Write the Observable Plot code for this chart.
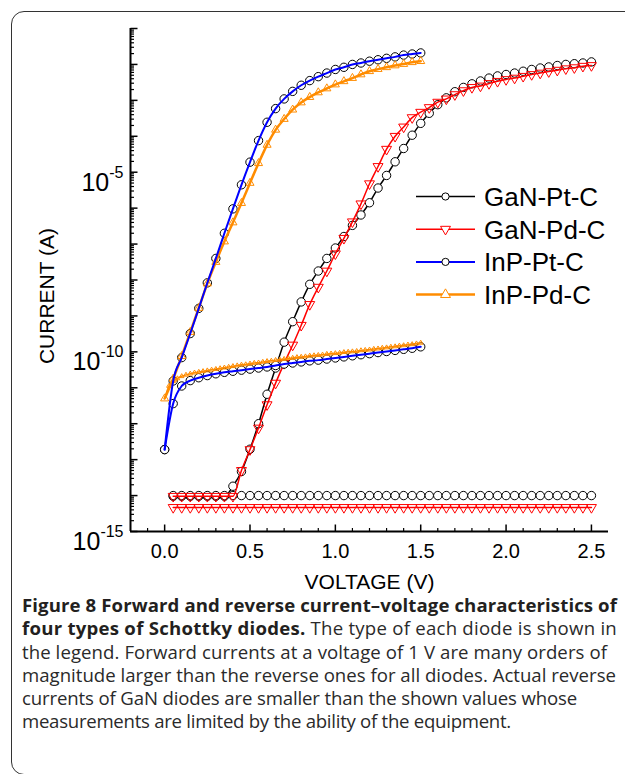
<!DOCTYPE html>
<html><head><meta charset="utf-8">
<script src="https://cdn.jsdelivr.net/npm/d3@7"></script>
<script src="https://cdn.jsdelivr.net/npm/@observablehq/plot@0.6"></script>
<style>
html,body{margin:0;padding:0;background:#fff;}
body{width:625px;height:774px;overflow:hidden;position:relative;}
#chart{position:absolute;left:0;top:0;}
#legend{position:absolute;left:0;top:0;}
#frame{position:absolute;left:11px;top:11px;width:700px;height:762px;border:1.5px solid #333;border-radius:13px;pointer-events:none;}
#caption{position:absolute;left:22px;top:593px;font-family:"Open Sans",sans-serif;font-size:18.6px;line-height:23.3px;color:#2a2a2a;white-space:nowrap;}
#caption span{display:block;}
#caption b{color:#231f20;}
</style></head><body>
<div id="chart"></div>
<svg id="legend" width="625" height="600"></svg>
<div id="frame"></div>
<div id="caption"><span data-w="595"><b>Figure 8 Forward and reverse current–voltage characteristics of</b></span><span data-w="595"><b>four types of Schottky diodes.</b> The type of each diode is shown in</span><span data-w="585">the legend. Forward currents at a voltage of 1 V are many orders of</span><span data-w="594">magnitude larger than the reverse ones for all diodes. Actual reverse</span><span data-w="555">currents of GaN diodes are smaller than the shown values whose</span><span data-w="489">measurements are limited by the ability of the equipment.</span></div>
<script>
// ---------- data (currents as log10(I / A)) ----------
const series = ["GaN-Pt-C", "GaN-Pd-C", "InP-Pt-C", "InP-Pd-C"];
const lineColors = ["#000000", "#ff0000", "#0000ff", "#ff8c00"];
const markerColors = ["#000000", "#ff0000", "#000000", "#ff8c00"];

const xTickValues = [0, 0.5, 1, 1.5, 2, 2.5];
const xTickLabels = ["0.0", "0.5", "1.0", "1.5", "2.0", "2.5"];
const yTickValues = [1e-15, 1e-10, 1e-5];
const yTickLabels = ["10^-15", "10^-10", "10^-5"];

// voltage grids (V)
const vGaN = d3.range(1, 51).map(i => +(i * 0.05).toFixed(3));     // 0.05 … 2.50
const vInP = d3.range(0, 31).map(i => +(i * 0.05).toFixed(3));     // 0.00 … 1.50
const vInPfine = d3.range(0, 61).map(i => +(i * 0.025).toFixed(3)); // 0.000 … 1.500

const ganPtForward = [-14.02, -14.02, -14.02, -14.02, -14.02, -14.02, -14.02,
  -13.74, -13.33, -12.71, -12.00, -11.18, -10.45, -9.73, -9.16, -8.61, -8.12,
  -7.75, -7.40, -7.11, -6.79, -6.48, -6.19, -5.85, -5.44, -5.09, -4.71,
  -4.34, -3.97, -3.64, -3.36, -3.12, -2.93, -2.76, -2.64, -2.54, -2.46,
  -2.38, -2.32, -2.28, -2.24, -2.19, -2.14, -2.10, -2.07, -2.03, -2.00,
  -1.98, -1.96, -1.93];
const ganPtReverse = [-14.0, -14.0, -14.0, -14.0, -14.0, -14.0, -14.0, -14.0, -14.0, -14.0,
  -14.0, -14.0, -14.0, -14.0, -14.0, -14.0, -14.0, -14.0, -14.0, -14.0,
  -14.0, -14.0, -14.0, -14.0, -14.0, -14.0, -14.0, -14.0, -14.0, -14.0,
  -14.0, -14.0, -14.0, -14.0, -14.0, -14.0, -14.0, -14.0, -14.0, -14.0,
  -14.0, -14.0, -14.0, -14.0, -14.0, -14.0, -14.0, -14.0, -14.0, -14.0];
const ganPdForward = [-14.02, -14.02, -14.02, -14.02, -14.02, -14.02, -14.02, -14.02,
  -13.30, -12.72, -12.12, -11.47, -10.87, -10.32, -9.81, -9.26, -8.68, -8.20,
  -7.75, -7.27, -6.84, -6.38, -5.88, -5.32, -4.84, -4.36, -4.00, -3.74,
  -3.48, -3.33, -3.20, -3.05, -2.96, -2.84, -2.73, -2.64, -2.60, -2.53,
  -2.47, -2.42, -2.38, -2.33, -2.28, -2.24, -2.20, -2.16, -2.12, -2.09,
  -2.05, -2.03];
const ganPdReverse = [-14.33, -14.33, -14.33, -14.33, -14.33, -14.33, -14.33, -14.33, -14.33, -14.33,
  -14.33, -14.33, -14.33, -14.33, -14.33, -14.33, -14.33, -14.33, -14.33, -14.33,
  -14.33, -14.33, -14.33, -14.33, -14.33, -14.33, -14.33, -14.33, -14.33, -14.33,
  -14.33, -14.33, -14.33, -14.33, -14.33, -14.33, -14.33, -14.33, -14.33, -14.33,
  -14.33, -14.33, -14.33, -14.33, -14.33, -14.33, -14.33, -14.33, -14.33, -14.33];
const inpPtForward = [-12.72, -10.81, -10.16, -9.49, -8.79, -8.08, -7.40, -6.70,
  -6.02, -5.35, -4.72, -4.12, -3.61, -3.23, -2.96, -2.75, -2.58, -2.45,
  -2.34, -2.24, -2.14, -2.08, -2.00, -1.96, -1.91, -1.87, -1.83, -1.79,
  -1.74, -1.71, -1.68];
const inpPtReverse = [-12.72, -11.44, -10.95, -10.80, -10.72, -10.66, -10.61, -10.57,
  -10.54, -10.51, -10.48, -10.45, -10.42, -10.38, -10.34, -10.31, -10.28,
  -10.25, -10.23, -10.20, -10.17, -10.14, -10.11, -10.08, -10.05, -10.02,
  -9.99, -9.96, -9.93, -9.90, -9.86];
const inpPdForward = [-11.30, -10.75, -10.12, -9.45, -8.78, -8.10, -7.50, -6.93,
  -6.40, -5.86, -5.30, -4.75, -4.24, -3.82, -3.52, -3.26, -3.06, -2.91,
  -2.78, -2.67, -2.56, -2.47, -2.38, -2.28, -2.19, -2.13, -2.08, -2.03,
  -1.99, -1.94, -1.91];
const inpPdReverse = [-11.30, -10.95, -10.82, -10.74, -10.68, -10.64, -10.61, -10.58,
  -10.56, -10.54, -10.52, -10.50, -10.48, -10.46, -10.44, -10.42, -10.40,
  -10.38, -10.36, -10.35, -10.33, -10.31, -10.30, -10.28, -10.26, -10.25,
  -10.23, -10.22, -10.20, -10.18, -10.17, -10.15, -10.14, -10.13, -10.11,
  -10.10, -10.09, -10.08, -10.06, -10.05, -10.04, -10.03, -10.01, -10.00,
  -9.99, -9.98, -9.96, -9.95, -9.94, -9.92, -9.91, -9.89, -9.88, -9.86,
  -9.85, -9.83, -9.82, -9.80, -9.79, -9.77, -9.75];

// ---------- build tables ----------
const rows = (volts, exps, branch) => volts.map((V, i) => ({V, I: Math.pow(10, exps[i]), branch}));
const ganPt = rows(vGaN, ganPtForward, "f").concat(rows(vGaN, ganPtReverse, "r"));
const ganPd = rows(vGaN, ganPdForward, "f").concat(rows(vGaN, ganPdReverse, "r"));
const inpPt = rows(vInP, inpPtForward, "f").concat(rows(vInP, inpPtReverse, "r"));
const inpPdF = rows(vInP, inpPdForward, "f");
const inpPdR = rows(vInPfine, inpPdReverse, "r");

// ---------- symbols ----------
const sqrt3 = Math.sqrt(3);
const triDown = {draw(c, size) {
  const y = -Math.sqrt(size / (sqrt3 * 3));
  c.moveTo(0, -y * 2); c.lineTo(-sqrt3 * y, y); c.lineTo(sqrt3 * y, y); c.closePath();
}};
const tickRight = len => ({draw(c) { c.moveTo(0, 0); c.lineTo(len, 0); }});
const tickUp = len => ({draw(c) { c.moveTo(0, 0); c.lineTo(0, -len); }});

// tick positions
const yMajor = d3.range(-15, 0).map(e => Math.pow(10, e));
const yMinor = [];
for (let e = -15; e < -1; e++) for (let k = 2; k <= 9; k++) yMinor.push(k * Math.pow(10, e));
const xMajor = xTickValues;
const xMinor = d3.range(-1, 26).map(i => +(i * 0.1).toFixed(2)).filter(v => !xMajor.some(m => Math.abs(m - v) < 1e-9));

const FONT = '"Liberation Sans", Arial, Helvetica, sans-serif';

const plot = Plot.plot({
  width: 625, height: 600,
  marginTop: 28, marginBottom: 69, marginLeft: 130, marginRight: 17,
  style: {fontFamily: FONT, background: "transparent", overflow: "visible", color: "black"},
  x: {domain: [-0.2, 2.6]},
  y: {type: "log", domain: [1e-15, 1e-1]},
  marks: [
    // series
    Plot.line(ganPt, {x: "V", y: "I", z: "branch", stroke: lineColors[0], strokeWidth: 1.5, curve: "monotone-x"}),
    Plot.dot(ganPt, {x: "V", y: "I", symbol: "circle", r: 4.2, fill: "white", stroke: markerColors[0], strokeWidth: 1}),
    Plot.line(ganPd, {x: "V", y: "I", z: "branch", stroke: lineColors[1], strokeWidth: 1.5, curve: "monotone-x"}),
    Plot.dot(ganPd, {x: "V", y: "I", symbol: triDown, r: 3.7, fill: "none", stroke: markerColors[1], strokeWidth: 1}),
    Plot.dot(inpPt, {x: "V", y: "I", symbol: "circle", r: 4.2, fill: "white", stroke: markerColors[2], strokeWidth: 1}),
    Plot.line(inpPdF, {x: "V", y: "I", stroke: lineColors[3], strokeWidth: 2.5, curve: "monotone-x"}),
    Plot.line(inpPdR, {x: "V", y: "I", stroke: lineColors[3], strokeWidth: 1.5, curve: "monotone-x"}),
    Plot.dot(inpPdF, {x: "V", y: "I", symbol: "triangle", r: 3.0, fill: "none", stroke: markerColors[3], strokeWidth: 1}),
    Plot.dot(inpPdR.slice(1), {x: "V", y: "I", symbol: "triangle", r: 1.7, fill: "none", stroke: markerColors[3], strokeWidth: 1}),
    Plot.line(inpPt, {x: "V", y: "I", z: "branch", stroke: lineColors[2], strokeWidth: 2, curve: "monotone-x"}),
    // axis lines
    Plot.ruleX([-0.2], {y1: 1e-15, y2: 1e-1, stroke: "black", strokeWidth: 2}),
    Plot.ruleY([1e-15], {x1: -0.2, x2: 2.6, stroke: "black", strokeWidth: 2}),
    // inward ticks
    Plot.dot(yMajor, {x: () => -0.2, y: d => d, symbol: tickRight(7), fill: "none", stroke: "black", strokeWidth: 1.5}),
    Plot.dot(yMinor, {x: () => -0.2, y: d => d, symbol: tickRight(3.5), fill: "none", stroke: "black", strokeWidth: 1.2}),
    Plot.dot(xMajor, {x: d => d, y: () => 1e-15, symbol: tickUp(7), fill: "none", stroke: "black", strokeWidth: 1.5}),
    Plot.dot(xMinor, {x: d => d, y: () => 1e-15, symbol: tickUp(3.5), fill: "none", stroke: "black", strokeWidth: 1.2}),
    // tick labels
    Plot.axisX({ticks: xTickValues, tickFormat: d => xTickLabels[xTickValues.indexOf(d)], tickSize: 0, tickPadding: 12, fontSize: 20, label: null}),
    Plot.axisY({ticks: yTickValues, tickFormat: d => yTickLabels[yTickValues.indexOf(d)], tickSize: 0, tickPadding: 7, fontSize: 25, label: null}),
    // x axis title
    Plot.text(["VOLTAGE (V)"], {text: d => d, frameAnchor: "bottom", dy: 51, fontSize: 21, lineAnchor: "middle"})
  ]
});

// superscript exponents on y tick labels
plot.querySelectorAll('g[aria-label="y-axis tick label"] text').forEach(t => {
  const s = t.textContent;
  const k = s.indexOf("^");
  if (k < 0) return;
  t.textContent = s.slice(0, k);
  t.setAttribute("dy", "0.42em");
  const ts = document.createElementNS("http://www.w3.org/2000/svg", "tspan");
  ts.setAttribute("dy", "-13");
  ts.setAttribute("font-size", "16");
  ts.textContent = s.slice(k + 1);
  t.appendChild(ts);
});
document.getElementById("chart").appendChild(plot);

// ---------- legend and y-axis title ----------
const lg = d3.select("#legend");
lg.append("text").attr("transform", "translate(53.5,296) rotate(-90)").attr("text-anchor", "middle")
  .attr("font-family", FONT).attr("font-size", 21).attr("fill", "black").text("CURRENT (A)");
const legY0 = 196.5, legStep = 32.7;
const legWidths = [1.5, 1.5, 2, 2.5];
const legSymbols = [d3.symbolCircle, triDown, d3.symbolCircle, d3.symbolTriangle];
const legSizes = [Math.PI * 3.6 * 3.6, 43, Math.PI * 3.6 * 3.6, 43];
series.forEach((name, i) => {
  const y = legY0 + i * legStep;
  lg.append("line").attr("x1", 416).attr("x2", 475).attr("y1", y).attr("y2", y)
    .attr("stroke", lineColors[i]).attr("stroke-width", legWidths[i]);
  lg.append("path").attr("transform", `translate(445.5,${y})`)
    .attr("d", d3.symbol(legSymbols[i], legSizes[i])())
    .attr("fill", "white").attr("stroke", markerColors[i]).attr("stroke-width", 1);
  lg.append("text").attr("x", 484).attr("y", y + 9.3).attr("font-family", FONT).attr("font-size", 26)
    .attr("fill", "black").text(name);
});

// ---------- caption line fitting ----------
document.querySelectorAll("#caption span").forEach(sp => {
  const target = +sp.dataset.w;
  const inner = document.createElement("span");
  inner.style.display = "inline";
  while (sp.firstChild) inner.appendChild(sp.firstChild);
  sp.appendChild(inner);
  const w = inner.getBoundingClientRect().width;
  const n = inner.textContent.length;
  if (n > 1) inner.style.letterSpacing = ((target - w) / n).toFixed(3) + "px";
});
</script>
</body></html>
